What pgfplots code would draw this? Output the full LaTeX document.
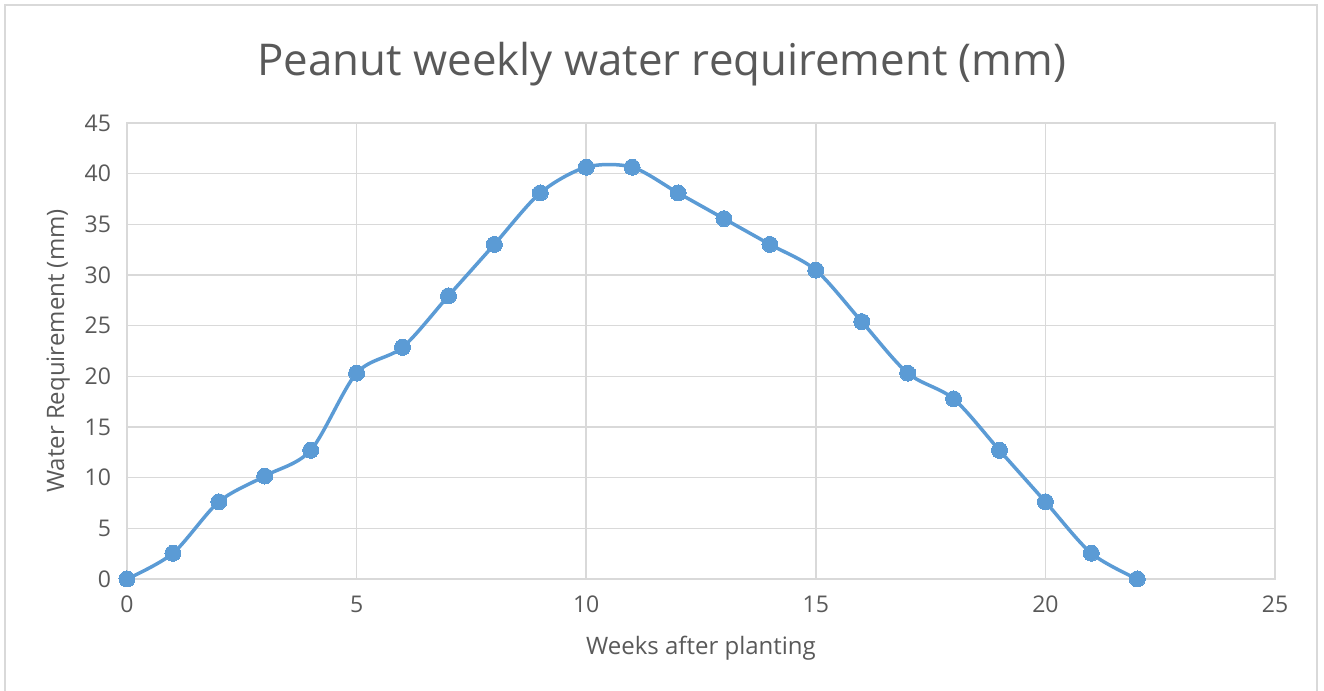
\documentclass[border=0pt]{standalone}
\usepackage{pgfplots}
\pgfplotsset{compat=1.18}
\usepackage{fontspec}
\setmainfont{Open Sans}
\definecolor{txtgray}{HTML}{595959}
\definecolor{gridgray}{HTML}{D9D9D9}
\definecolor{serblue}{HTML}{5B9BD5}
\begin{document}
\begin{tikzpicture}
\useasboundingbox (0,0) rectangle (662pt,345.5pt);
\draw[gridgray, line width=0.75pt] (2.5pt,-5pt) -- (2.5pt,343pt) -- (658.5pt,343pt) -- (658.5pt,-5pt);
\node[txtgray, font=\fontsize{21.9}{26}\selectfont] at (331pt,313.5pt) {Peanut weekly water requirement (mm)};
\begin{axis}[
  at={(63.5pt,56pt)}, anchor=origin,
  scale only axis, width=574pt, height=228pt,
  xmin=0, xmax=25, ymin=0, ymax=45,
  xtick={0,5,...,25}, ytick={0,5,...,45},
  grid=major, major grid style={gridgray, line width=0.75pt},
  axis line style={gridgray, line width=0.75pt},
  tick style={draw=none},
  ticklabel style={txtgray, font=\fontsize{11.5}{13}\selectfont},
  /pgf/number format/assume math mode=true,
  xticklabel style={yshift=-5pt},
  yticklabel style={xshift=-4.5pt},
  xlabel={Weeks after planting}, ylabel={Water Requirement (mm)},
  label style={txtgray, font=\fontsize{12}{14}\selectfont},
  xlabel style={at={(axis description cs:0.5,0)}, anchor=center, yshift=-34.5pt},
  ylabel style={at={(axis description cs:-0.06,0.5)}, anchor=center},
  clip=false,
]
\addplot[serblue, line width=1.75pt, smooth, tension=0.5, mark=*, mark size=4pt, mark options={fill=serblue, draw=serblue, line width=0pt}]
coordinates {
(0,0) (1,2.54) (2,7.62) (3,10.16) (4,12.7) (5,20.32) (6,22.86) (7,27.94)
(8,33.02) (9,38.1) (10,40.64) (11,40.64) (12,38.1) (13,35.56) (14,33.02)
(15,30.48) (16,25.4) (17,20.32) (18,17.78) (19,12.7) (20,7.62) (21,2.54) (22,0)
};
\end{axis}
\end{tikzpicture}
\end{document}
